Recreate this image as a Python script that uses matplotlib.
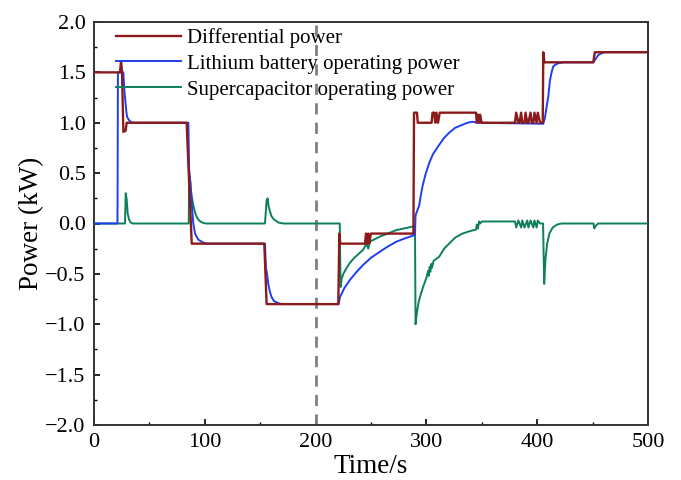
import matplotlib
matplotlib.use("Agg")
import matplotlib.pyplot as plt
from matplotlib.ticker import MultipleLocator

plt.rcParams['font.family'] = ['Liberation Serif', 'DejaVu Serif']
plt.rcParams['mathtext.fontset'] = 'stix'

# ---------------- data ----------------
diff_t = [0, 23.5, 24.4, 25.3, 26.5, 28.5, 29.5, 83.6, 88.2, 153.7, 155.8,
          220.5, 221.4, 222.3, 244.6, 245.5, 246.5, 247.5, 248.5, 249.8,
          288.3, 288.8, 291.5, 292.2, 304.7, 305.5, 307.0, 308.0, 309.0,
          310.5, 312.0, 344.8, 345.5, 346.5, 347.5, 348.5, 349.8,
          380.0, 381.0, 383.0, 384.0, 385.5, 386.5, 388.5, 389.5, 391.0,
          392.0, 394.0, 395.0, 396.5, 397.5, 399.5, 400.5, 402.6,
          405.0, 405.5, 406.5, 450.6, 452.0, 500]
diff_p = [1.5, 1.5, 1.61, 1.5, 0.91, 0.92, 1.0, 1.0, -0.2, -0.2, -0.8,
          -0.8, -0.1, -0.2, -0.2, -0.1, -0.2, -0.1, -0.2, -0.1,
          -0.1, 1.1, 1.1, 1.0, 1.0, 1.1, 1.1, 1.0, 1.1,
          1.0, 1.1, 1.1, 1.0, 1.08, 1.0, 1.08, 1.0,
          1.0, 1.1, 1.0, 1.0, 1.1, 1.0, 1.0, 1.1, 1.0,
          1.0, 1.1, 1.0, 1.0, 1.1, 1.0, 1.1, 1.0,
          1.0, 1.7, 1.6, 1.6, 1.7, 1.7]

bat_t = [0, 21.2, 21.6, 26.5, 27.4, 28.3, 28.9, 29.8, 31.3, 34.0,
         85.2, 85.8, 86.6, 87.3, 88.2, 89.6, 91.2, 94.1, 98.7, 102.0,
         154.3, 155.2, 156.4, 157.3, 158.8, 160.3, 162.4, 166.3, 169.0,
         220.8, 222.0, 226, 231, 237, 243, 250, 258, 265, 273, 280, 288, 289.7,
         290.2, 291.5, 293.5, 295, 296.5, 299, 302.5, 306, 311.5, 316, 320.5,
         326, 332.5, 337, 341.6, 346, 405.5, 407, 408.5, 410, 411.5, 413,
         414.5, 417, 419, 424, 450.6, 452, 455, 458, 461, 500]
bat_p = [0, 0, 1.5, 1.5, 1.32, 1.22, 1.14, 1.06, 1.03, 1.0,
         1.0, 0.55, 0.45, 0.35, 0.2, 0.0, -0.1, -0.16, -0.19, -0.2,
         -0.2, -0.44, -0.52, -0.6, -0.68, -0.73, -0.77, -0.79, -0.8,
         -0.8, -0.73, -0.64, -0.56, -0.48, -0.41, -0.34, -0.28, -0.23, -0.18, -0.15, -0.12, -0.11,
         0.08, 0.12, 0.18, 0.28, 0.37, 0.48, 0.6, 0.69, 0.78, 0.85, 0.9,
         0.95, 0.98, 1.0, 1.01, 1.0, 0.99, 1.05, 1.16, 1.26, 1.42, 1.5,
         1.56, 1.58, 1.59, 1.6, 1.6, 1.62, 1.67, 1.69, 1.7, 1.7]

sc_t = [0, 28.0, 28.6, 29.5, 30.4, 31.6, 33.0, 35.0,
        85.5, 85.9, 86.6, 87.6, 88.2, 89.6, 91.2, 92.5, 94.1, 96.0, 98.7, 101.0,
        154.3, 155.8, 156.7, 157.6, 158.8, 160.3, 162.4, 166.3, 170.8,
        221.8, 222.5, 223.5, 225, 228, 231, 235, 240, 243, 246, 247.5, 249,
        258, 273, 288, 289.7, 290.2, 291.5, 293, 295, 297, 299, 300.5,
        301.5, 302.0, 303.0, 303.5, 304.5, 305.0, 306.5, 311.5, 316, 320.5,
        326, 332.5, 338, 344.8, 345.5, 346.5, 347.5, 348.5, 350,
        380.0, 381.0, 383.0, 385.5, 386.5, 388.5, 391.0, 392.0, 394.0,
        396.5, 397.5, 399.5, 400.5, 402.6, 405.3, 406.3, 407.5, 409, 411,
        414, 418, 422, 450.8, 451.5, 453, 455, 500]
sc_p = [0, 0, 0.3, 0.24, 0.1, 0.04, 0.01, 0,
        0, 0.48, 0.45, 0.32, 0.27, 0.18, 0.11, 0.07, 0.04, 0.02, 0.005, 0,
        0, 0.23, 0.25, 0.17, 0.12, 0.07, 0.04, 0.01, 0,
        0, -0.63, -0.55, -0.5, -0.44, -0.39, -0.34, -0.29, -0.26, -0.2, -0.25, -0.18,
        -0.13, -0.065, -0.03, -0.03, -1.0, -0.88, -0.78, -0.7, -0.63, -0.57, -0.52,
        -0.47, -0.52, -0.43, -0.48, -0.4, -0.44, -0.37, -0.33, -0.25, -0.2,
        -0.14, -0.1, -0.08, -0.06, -0.01, -0.05, 0.02, 0.0, 0.02,
        0.02, -0.04, 0.03, -0.04, 0.03, -0.04, 0.03, -0.04, 0.03,
        -0.04, 0.03, -0.04, 0.03, 0.0, 0.0, -0.6, -0.35, -0.2, -0.1,
        -0.04, -0.01, 0, 0, -0.05, -0.02, 0, 0]

labels = ['Differential power', 'Lithium battery operating power',
          'Supercapacitor operating power']
colors = ['#8B1A1A', '#1F3FEF', '#0E7F5C']

# ---------------- figure ----------------
fig = plt.figure(figsize=(6.81, 4.80), dpi=100)
ax = fig.add_axes([94/681, 1-425/480, (648-94)/681, (425-22)/480])

ax.plot(diff_t, diff_p, color=colors[0], lw=1.7, label=labels[0], zorder=5)
ax.plot(bat_t, bat_p, color=colors[1], lw=1.4, label=labels[1], zorder=4)
ax.plot(sc_t, sc_p, color=colors[2], lw=1.4, label=labels[2], zorder=3)
ax.axvline(200, color='#808080', lw=2.0, ls=(0, (4, 3)), zorder=2)

ax.set_xlim(0, 500)
ax.set_ylim(-2.0, 2.0)
ax.xaxis.set_major_locator(MultipleLocator(100))
ax.xaxis.set_minor_locator(MultipleLocator(50))
ax.yaxis.set_major_locator(MultipleLocator(0.5))
ax.yaxis.set_minor_locator(MultipleLocator(0.25))
ax.yaxis.set_major_formatter(plt.FuncFormatter(lambda v, p: f"{v:.1f}".replace('-', '\u2212')))
ax.tick_params(which='major', direction='in', length=4, width=1.2,
               labelsize=16, pad=6)
ax.tick_params(which='minor', direction='in', length=2, width=1.0)
for s in ax.spines.values():
    s.set_linewidth(1.4)
    s.set_color('#333333')

ax.set_xlabel('Time/s', fontsize=19.5, labelpad=1)
ax.set_ylabel('Power (kW)', fontsize=19.5, labelpad=1)

ax.legend(loc='upper left', bbox_to_anchor=(0.04, 0.985), frameon=False,
          fontsize=15, borderpad=0, borderaxespad=0, handlelength=3.1,
          handletextpad=0.3, labelspacing=0.3)

fig.savefig('out.png', dpi=100)
